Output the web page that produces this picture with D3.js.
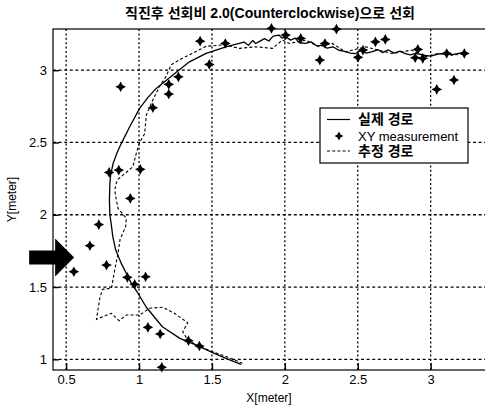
<!DOCTYPE html>
<html>
<head>
<meta charset="utf-8">
<script src="https://cdn.jsdelivr.net/npm/d3@7"></script>
<style>
  html, body { margin: 0; padding: 0; background: #fff; }
  svg { display: block; }
  text { font-family: "Liberation Sans", Arial, "Noto Sans CJK KR", sans-serif; fill: #000; }
</style>
</head>
<body>
<svg id="chart" width="485" height="409"></svg>
<script>
// Title, axis labels and legend entries
const title = "직진후 선회비 2.0(Counterclockwise)으로 선회";
const xLabel = "X[meter]";
const yLabel = "Y[meter]";
const legendLabels = ["실제 경로", "XY measurement", "추정 경로"];

// Tick values
const xTicks = [0.5, 1, 1.5, 2, 2.5, 3];
const yTicks = [1, 1.5, 2, 2.5, 3];

// Actual path (solid)
const trueX = [1.70, 1.60, 1.505, 1.39, 1.28, 1.16, 1.05, 0.985, 0.95, 0.92, 0.88, 0.84, 0.82, 0.81, 0.80, 0.797, 0.80, 0.805, 0.822, 0.85, 0.879, 0.936, 1.004, 1.06, 1.118, 1.232, 1.346, 1.46, 1.596, 1.66, 1.687, 1.72, 1.75, 1.78, 1.80, 1.824, 1.86, 1.89, 1.92, 1.96, 1.98, 2.006, 2.04, 2.07, 2.10, 2.143, 2.18, 2.22, 2.256, 2.29, 2.33, 2.37, 2.41, 2.45, 2.484, 2.52, 2.56, 2.60, 2.64, 2.67, 2.71, 2.75, 2.79, 2.826, 2.86, 2.90, 2.962, 3.00, 3.05, 3.10, 3.15, 3.20, 3.236];
const trueY = [0.965, 1.005, 1.046, 1.10, 1.145, 1.225, 1.36, 1.47, 1.52, 1.58, 1.66, 1.756, 1.85, 1.93, 2.00, 2.10, 2.217, 2.27, 2.355, 2.43, 2.494, 2.609, 2.736, 2.81, 2.874, 2.966, 3.058, 3.116, 3.162, 3.178, 3.185, 3.195, 3.172, 3.205, 3.185, 3.198, 3.218, 3.202, 3.236, 3.243, 3.222, 3.232, 3.208, 3.222, 3.19, 3.186, 3.196, 3.168, 3.174, 3.152, 3.162, 3.138, 3.13, 3.118, 3.114, 3.136, 3.118, 3.128, 3.142, 3.122, 3.14, 3.118, 3.132, 3.115, 3.106, 3.116, 3.103, 3.098, 3.112, 3.116, 3.108, 3.118, 3.116];

// Estimated path (dashed)
const estX = [1.71, 1.60, 1.505, 1.414, 1.334, 1.30, 1.334, 1.243, 1.163, 1.072, 1.004, 0.913, 0.863, 0.810, 0.708, 0.731, 0.749, 0.811, 0.833, 0.856, 0.87, 0.908, 0.913, 0.856, 0.845, 0.833, 0.85, 0.958, 0.981, 1.004, 1.038, 1.05, 1.095, 1.141, 1.186, 1.22, 1.277, 1.368, 1.46, 1.585, 1.687, 1.80, 1.915, 1.983, 2.03, 2.143, 2.234, 2.325, 2.416, 2.553, 2.643, 2.734, 2.871, 2.962, 3.053, 3.144, 3.258];
const estY = [0.972, 1.018, 1.053, 1.087, 1.134, 1.191, 1.253, 1.318, 1.36, 1.353, 1.306, 1.306, 1.267, 1.318, 1.277, 1.422, 1.484, 1.491, 1.617, 1.733, 1.83, 1.917, 1.975, 2.044, 2.10, 2.17, 2.24, 2.332, 2.425, 2.50, 2.56, 2.69, 2.795, 2.888, 2.957, 3.037, 3.072, 3.118, 3.165, 3.176, 3.151, 3.162, 3.151, 3.208, 3.185, 3.208, 3.162, 3.185, 3.127, 3.162, 3.139, 3.116, 3.139, 3.093, 3.116, 3.104, 3.116];

// XY measurements (markers)
const measX = [0.553, 0.663, 0.724, 0.777, 0.920, 0.970, 1.045, 1.061, 1.145, 1.339, 1.414, 1.156, 0.940, 0.795, 0.861, 1.009, 1.095, 1.204, 1.204, 1.270, 0.874, 1.482, 1.419, 1.592, 1.908, 2.006, 2.109, 2.354, 2.240, 2.275, 2.502, 2.536, 2.621, 2.689, 2.912, 2.894, 2.946, 3.110, 3.231, 3.042, 3.160];
const measY = [1.606, 1.786, 1.932, 1.652, 1.567, 1.519, 1.571, 1.221, 1.175, 1.129, 1.092, 0.945, 2.113, 2.293, 2.309, 2.314, 2.740, 2.835, 2.902, 2.954, 2.885, 3.040, 3.201, 3.185, 3.289, 3.243, 3.220, 3.284, 3.070, 3.185, 3.089, 3.139, 3.196, 3.213, 3.144, 3.086, 3.082, 3.116, 3.116, 2.867, 2.932];

// Entry arrow (annotation) position in data units
const arrowTip = { x: 0.555, y: 1.705 };

const svg = d3.select("#chart");
const plotLeft = 53, plotRight = 490, plotTop = 29, plotBottom = 370;

const x = d3.scaleLinear().domain([0.41, 3.407]).range([plotLeft, plotRight]);
const y = d3.scaleLinear().domain([0.926, 3.285]).range([plotBottom, plotTop]);

// Grid
const grid = svg.append("g").attr("stroke", "#000").attr("fill", "none");
grid.selectAll("line.vx").data(xTicks).join("line")
  .attr("x1", d => x(d)).attr("x2", d => x(d))
  .attr("y1", plotTop).attr("y2", plotBottom)
  .attr("stroke-width", 1.3).attr("stroke-dasharray", "2,2.4");
grid.selectAll("line.hy").data(yTicks).join("line")
  .attr("x1", plotLeft).attr("x2", plotRight)
  .attr("y1", d => y(d)).attr("y2", d => y(d))
  .attr("stroke-width", 1.3).attr("stroke-dasharray", "3,2.6");

// Frame
svg.append("rect").attr("x", plotLeft).attr("y", plotTop)
  .attr("width", plotRight - plotLeft).attr("height", plotBottom - plotTop)
  .attr("fill", "none").attr("stroke", "#000").attr("stroke-width", 1.2);

// Axes (inward ticks)
const xAxis = svg.append("g").attr("transform", `translate(0,${plotBottom})`)
  .call(d3.axisBottom(x).tickValues(xTicks).tickFormat(d3.format("~g"))
    .tickSizeInner(-7).tickSizeOuter(0).tickPadding(5));
const yAxis = svg.append("g").attr("transform", `translate(${plotLeft},0)`)
  .call(d3.axisLeft(y).tickValues(yTicks).tickFormat(d3.format("~g"))
    .tickSizeInner(-6).tickSizeOuter(0).tickPadding(6));
[xAxis, yAxis].forEach(g => {
  g.select(".domain").remove();
  g.selectAll(".tick line").attr("stroke", "#000").attr("stroke-width", 1.4);
  g.selectAll(".tick text").attr("font-size", 13)
    .attr("font-family", "'Liberation Sans', Arial, sans-serif").attr("fill", "#000");
});

// Lines
const pathGen = d3.line().x(d => x(d[0])).y(d => y(d[1]));
const truePts = trueX.map((v, i) => [v, trueY[i]]);
const estPts = estX.map((v, i) => [v, estY[i]]);

svg.append("path").datum(estPts).attr("d", pathGen)
  .attr("fill", "none").attr("stroke", "#000").attr("stroke-width", 1.1)
  .attr("stroke-dasharray", "3,2.2");
svg.append("path").datum(truePts).attr("d", pathGen)
  .attr("fill", "none").attr("stroke", "#000").attr("stroke-width", 1.3)
  .attr("stroke-linejoin", "round");

// Four-point star marker
function starPath(r, ri) {
  const pts = [];
  for (let k = 0; k < 8; k++) {
    const a = -Math.PI / 2 + k * Math.PI / 4;
    const rr = k % 2 === 0 ? r : ri;
    pts.push([rr * Math.cos(a), rr * Math.sin(a)]);
  }
  return "M" + pts.map(p => p.map(v => v.toFixed(2)).join(",")).join("L") + "Z";
}
const star = starPath(5.3, 2.6);
svg.append("g").selectAll("path").data(measX.map((v, i) => [v, measY[i]])).join("path")
  .attr("d", star)
  .attr("transform", d => `translate(${x(d[0])},${y(d[1])})`)
  .attr("fill", "#000");

// Entry arrow
const tx = x(arrowTip.x), ty = y(arrowTip.y);
svg.append("path")
  .attr("d", `M${tx - 45},${ty - 7} L${tx - 19},${ty - 7} L${tx - 19},${ty - 19} L${tx},${ty} L${tx - 19},${ty + 19} L${tx - 19},${ty + 7} L${tx - 45},${ty + 7} Z`)
  .attr("fill", "#000");

// Title and axis labels
svg.append("text").attr("x", 270).attr("y", 18).attr("text-anchor", "middle")
  .attr("font-size", 14).attr("font-weight", 600)
  .attr("textLength", 290).attr("lengthAdjust", "spacingAndGlyphs")
  .attr("font-family", "'Liberation Sans', 'Noto Sans CJK KR', sans-serif")
  .text(title);
svg.append("text").attr("x", (plotLeft + 485) / 2).attr("y", 402).attr("text-anchor", "middle")
  .attr("font-size", 12).text(xLabel);
svg.append("text").attr("transform", `translate(16,${(plotTop + plotBottom) / 2}) rotate(-90)`)
  .attr("text-anchor", "middle").attr("font-size", 12).text(yLabel);

// Legend
const lg = svg.append("g").attr("transform", "translate(320,108)");
lg.append("rect").attr("width", 148).attr("height", 55)
  .attr("fill", "#fff").attr("stroke", "#000").attr("stroke-width", 1.2);
const rowY = [11.5, 28, 43];
legendLabels.forEach((lab, i) => {
  const ry = rowY[i];
  if (i === 0) {
    lg.append("line").attr("x1", 7).attr("x2", 30).attr("y1", ry).attr("y2", ry)
      .attr("stroke", "#000").attr("stroke-width", 1.2);
  } else if (i === 1) {
    lg.append("path").attr("d", starPath(4.5, 2.2)).attr("transform", `translate(19,${ry})`).attr("fill", "#000");
  } else {
    lg.append("line").attr("x1", 7).attr("x2", 30).attr("y1", ry).attr("y2", ry)
      .attr("stroke", "#000").attr("stroke-width", 1).attr("stroke-dasharray", "3,2.2");
  }
  lg.append("text").attr("x", 38).attr("y", ry).attr("dy", "0.35em")
    .attr("font-size", i === 1 ? 13 : 14)
    .attr("font-weight", i === 1 ? 400 : 600)
    .attr("font-family", "'Liberation Sans', 'Noto Sans CJK KR', sans-serif")
    .text(lab);
});
</script>
</body>
</html>
